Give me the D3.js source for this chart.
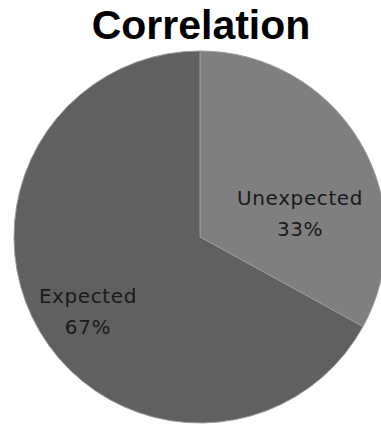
<!DOCTYPE html>
<html><head><meta charset="utf-8">
<script src="https://cdn.jsdelivr.net/npm/d3@7"></script>
<style>body{margin:0;background:#fff;} svg{display:block;}</style>
</head><body>
<svg id="c" width="381" height="427"></svg>
<script>
const title = "Correlation";
const categories = ["Unexpected", "Expected"];
const values = [33, 67];
const percentLabels = ["33%", "67%"];
const colors = ["#7f7f7f", "#606060"];

const svg = d3.select("#c");
const cx = 200, cy = 237, r = 186;

svg.append("text").attr("x", 201).attr("y", 38.5).attr("text-anchor", "middle")
  .attr("font-family", "Liberation Sans, Arial, sans-serif").attr("font-weight", "bold")
  .attr("font-size", 41).attr("fill", "#000").text(title);

const data = categories.map((c, i) => ({cat: c, val: values[i], pct: percentLabels[i], color: colors[i]}));
const pie = d3.pie().value(d => d.val).sort(null);
const arc = d3.arc().innerRadius(0).outerRadius(r);
const g = svg.append("g").attr("transform", `translate(${cx},${cy})`);
const arcs = pie(data);
g.selectAll("path").data(arcs).enter().append("path")
  .attr("d", arc).attr("fill", d => d.data.color)
  .attr("stroke", "#9a9a9a").attr("stroke-width", 1);

// label placement: centroid plus best-fit nudge (layout only)
const nudge = [[4, 25], [-16, 9]];
const labelArc = d3.arc().innerRadius(r * 0.6).outerRadius(r * 0.6);
const lbl = g.selectAll("text.l").data(arcs).enter().append("text")
  .attr("class", "l").attr("text-anchor", "middle")
  .attr("font-family", "DejaVu Sans, sans-serif").attr("font-size", 20)
  .attr("letter-spacing", 0.6).attr("fill", "#1a1a1a")
  .attr("transform", (d, i) => { const c = labelArc.centroid(d); return `translate(${c[0] + nudge[i][0]},${c[1] + nudge[i][1]})`; });
lbl.append("tspan").attr("x", 0).attr("y", 0).text(d => d.data.cat);
lbl.append("tspan").attr("x", 0).attr("y", 31).text(d => d.data.pct);
</script>
</body></html>
